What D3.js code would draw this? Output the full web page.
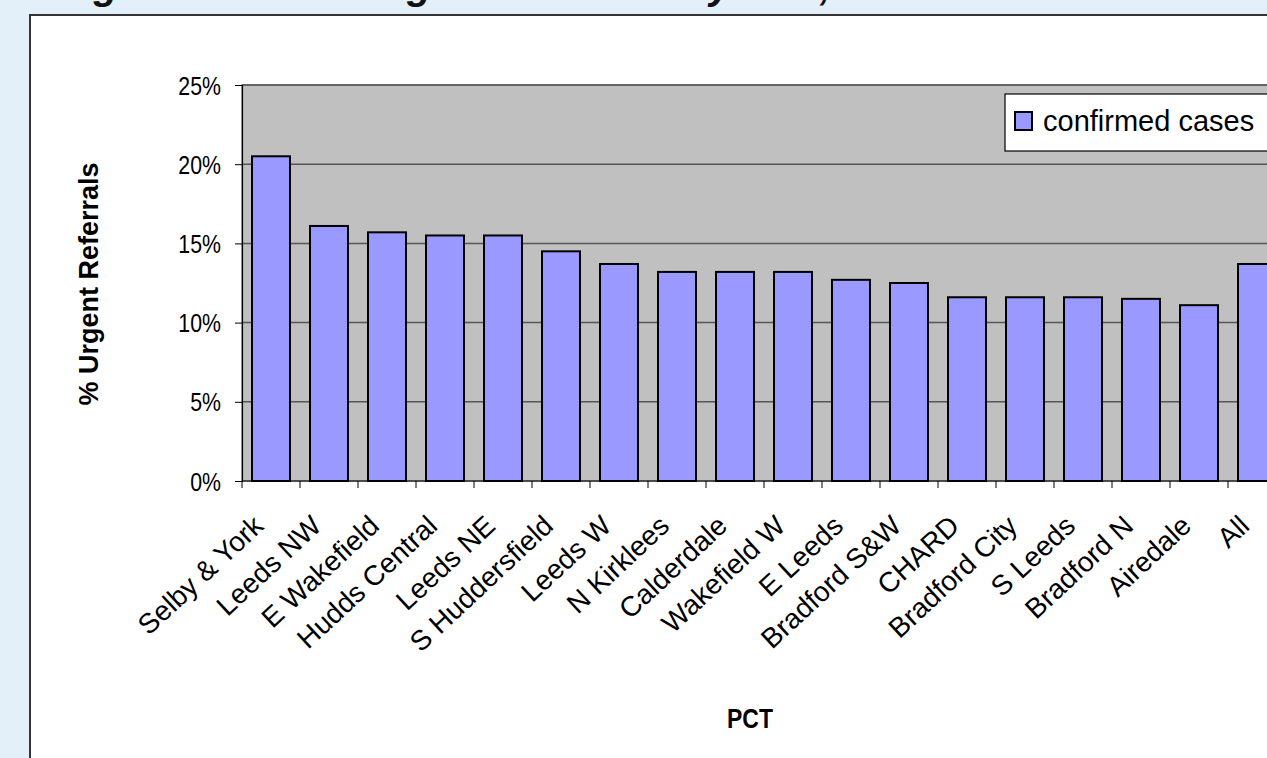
<!DOCTYPE html>
<html>
<head>
<meta charset="utf-8">
<script src="https://cdn.jsdelivr.net/npm/d3@7"></script>
<style>
  html, body { margin: 0; padding: 0; background: #e4f0f9; }
  svg { display: block; font-family: Arial, "Liberation Sans", sans-serif; }
</style>
</head>
<body>
<svg id="chart" width="1267" height="758"></svg>
<script>
// Percentage of urgent referrals that were confirmed cases, by PCT
const categories = [
  "Selby & York", "Leeds NW", "E Wakefield", "Hudds Central", "Leeds NE",
  "S Huddersfield", "Leeds W", "N Kirklees", "Calderdale", "Wakefield W",
  "E Leeds", "Bradford S&W", "CHARD", "Bradford City", "S Leeds",
  "Bradford N", "Airedale", "All"
];
const confirmedCases = [
  0.205, 0.161, 0.157, 0.155, 0.155,
  0.145, 0.137, 0.132, 0.132, 0.132,
  0.127, 0.125, 0.116, 0.116, 0.116,
  0.115, 0.111, 0.137
];
const yTicks = [0, 0.05, 0.10, 0.15, 0.20, 0.25];
const seriesName = "confirmed cases";
const titleText = "Figure 4: Percentage of referrals by PCT, 2005";

const svg = d3.select("#chart");

// white chart panel with dark frame
svg.append("rect")
  .attr("x", 30).attr("y", 15)
  .attr("width", 1300).attr("height", 800)
  .attr("fill", "#ffffff")
  .attr("stroke", "#333333").attr("stroke-width", 2);

// figure caption above the panel (runs off the top of the page)
svg.append("text")
  .attr("x", 58).attr("y", -1.5)
  .attr("font-size", 40).attr("font-weight", "bold").attr("font-style", "italic")
  .attr("fill", "#111")
  .text(titleText);

const plot = { left: 242, top: 85, bottom: 481, step: 58 };
plot.right = plot.left + plot.step * categories.length;

const x = d3.scaleBand()
  .domain(categories)
  .range([plot.left, plot.right])
  .paddingInner(0.345)
  .paddingOuter(0.1725);

const y = d3.scaleLinear()
  .domain([0, 0.25])
  .range([plot.bottom, plot.top]);

// grey plot area
svg.append("rect")
  .attr("x", plot.left).attr("y", plot.top)
  .attr("width", plot.right - plot.left).attr("height", plot.bottom - plot.top)
  .attr("fill", "#c0c0c0")
  .attr("stroke", "#808080").attr("stroke-width", 1.5);

// horizontal gridlines
svg.append("g")
  .selectAll("line")
  .data(yTicks.filter(d => d > 0))
  .join("line")
  .attr("x1", plot.left).attr("x2", plot.right)
  .attr("y1", d => y(d)).attr("y2", d => y(d))
  .attr("stroke", "#555555").attr("stroke-width", 1.5);

// bars
svg.append("g")
  .selectAll("rect")
  .data(categories.map((c, i) => ({ c, v: confirmedCases[i] })))
  .join("rect")
  .attr("x", d => x(d.c))
  .attr("y", d => y(d.v))
  .attr("width", x.bandwidth())
  .attr("height", d => y(0) - y(d.v))
  .attr("fill", "#9999ff")
  .attr("stroke", "#000").attr("stroke-width", 2);

// y axis
const yAxis = svg.append("g")
  .attr("transform", `translate(${plot.left},0)`)
  .call(d3.axisLeft(y).tickValues(yTicks).tickFormat(d3.format(".0%"))
    .tickSize(7).tickPadding(14));
yAxis.select(".domain").attr("stroke", "#000").attr("stroke-width", 1.2);
yAxis.selectAll(".tick line").attr("stroke", "#000");
yAxis.selectAll(".tick text")
  .attr("font-size", 26).attr("fill", "#000")
  .attr("font-family", "Arial, 'Liberation Sans', sans-serif")
  .attr("x", null).attr("dy", null)
  .attr("transform", "translate(-21,9) scale(0.82,1)");

// x axis: ticks sit on the category boundaries
const xAxisG = svg.append("g")
  .attr("transform", `translate(0,${plot.bottom})`);
xAxisG.append("line")
  .attr("x1", plot.left).attr("x2", plot.right)
  .attr("stroke", "#000").attr("stroke-width", 1.2);
xAxisG.selectAll("line.tick")
  .data(d3.range(categories.length + 1))
  .join("line")
  .attr("class", "tick")
  .attr("x1", i => plot.left + i * x.step())
  .attr("x2", i => plot.left + i * x.step())
  .attr("y1", 0).attr("y2", 7)
  .attr("stroke", "#000");

// rotated category labels
svg.append("g")
  .selectAll("text")
  .data(categories)
  .join("text")
  .attr("transform", d => `translate(${x(d) + x.bandwidth() / 2 - 6},${plot.bottom + 47}) rotate(-43)`)
  .attr("text-anchor", "end")
  .attr("font-size", 28)
  .attr("fill", "#000")
  .text(d => d);

// axis titles
svg.append("text")
  .attr("transform", "translate(98,284) rotate(-90)")
  .attr("text-anchor", "middle")
  .attr("font-size", 27).attr("font-weight", "bold")
  .text("% Urgent Referrals");

svg.append("text")
  .attr("transform", "translate(750,728) scale(0.85,1)")
  .attr("text-anchor", "middle")
  .attr("font-size", 27).attr("font-weight", "bold")
  .text("PCT");

// legend
const legend = svg.append("g").attr("transform", "translate(1005,94)");
legend.append("rect")
  .attr("width", 300).attr("height", 57)
  .attr("fill", "#fff").attr("stroke", "#000").attr("stroke-width", 1.2);
legend.append("rect")
  .attr("x", 10).attr("y", 18).attr("width", 17).attr("height", 18)
  .attr("fill", "#9999ff").attr("stroke", "#000").attr("stroke-width", 2);
legend.append("text")
  .attr("x", 38).attr("y", 37)
  .attr("font-size", 29).attr("fill", "#000")
  .text(seriesName);
</script>
</body>
</html>
